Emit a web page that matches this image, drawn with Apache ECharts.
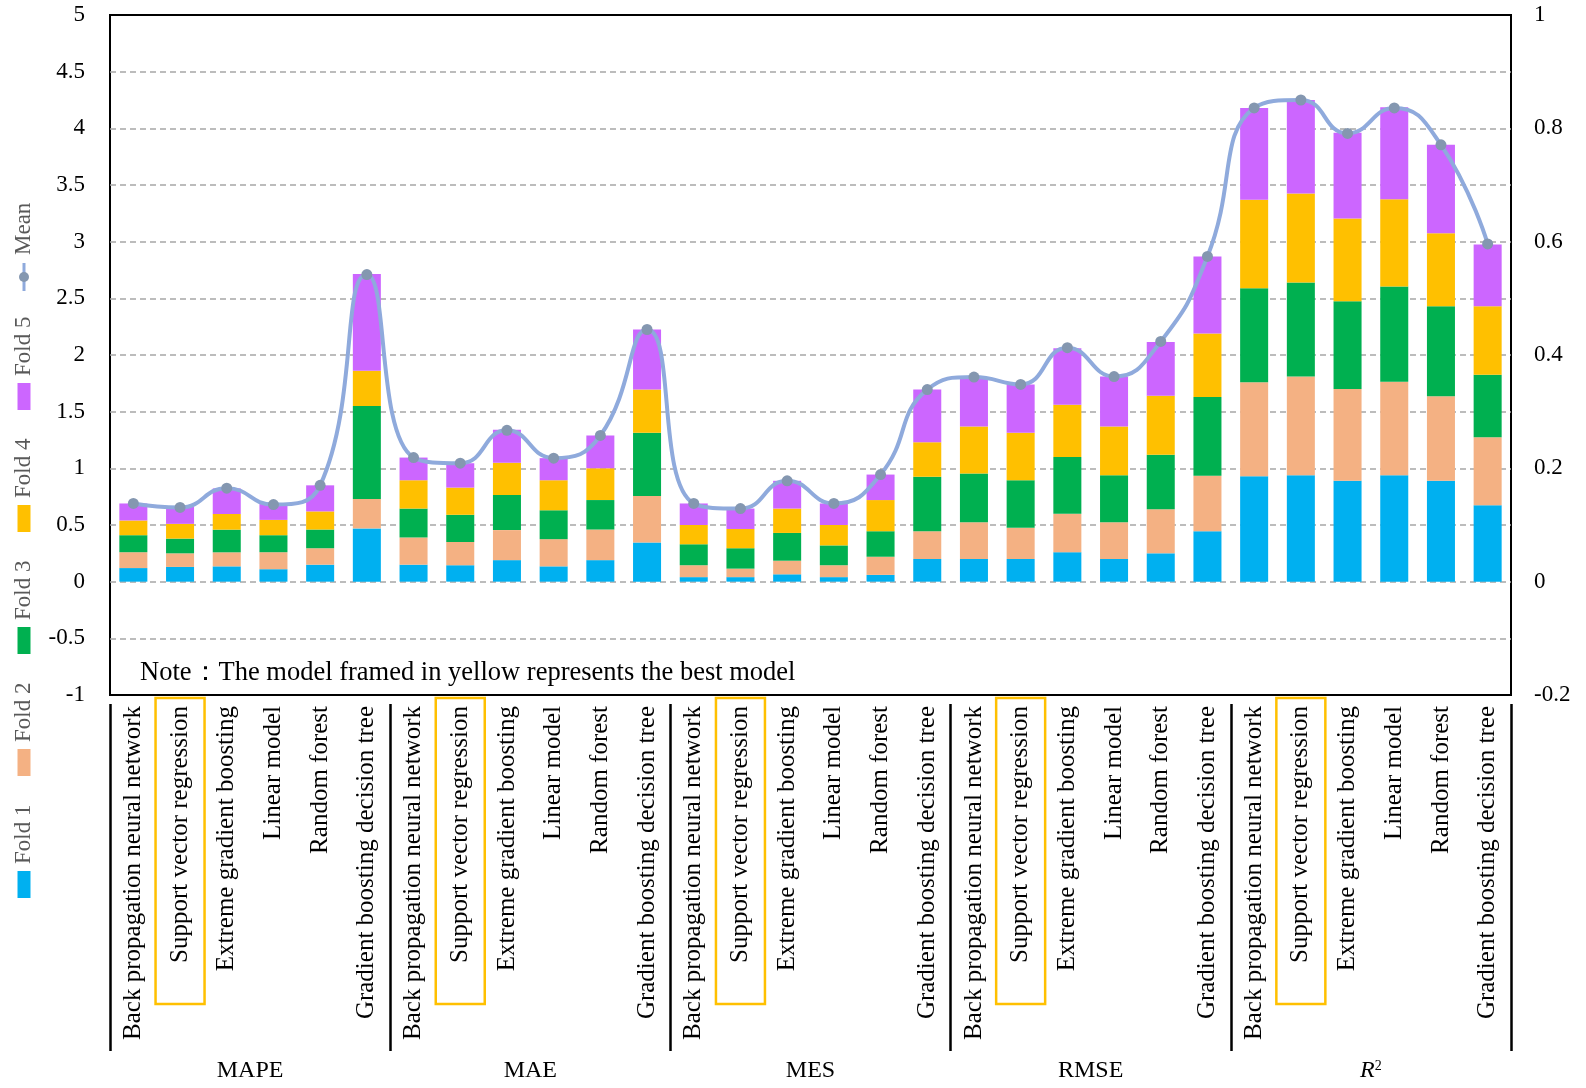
<!DOCTYPE html>
<html>
<head>
<meta charset="utf-8">
<script src="https://cdn.jsdelivr.net/npm/echarts@6/dist/echarts.min.js"></script>
<style>
  html, body { margin: 0; padding: 0; background: #fff; }
  #main { width: 1586px; height: 1088px; }
</style>
</head>
<body>
<div id="main"></div>
<script>
var chart = echarts.init(document.getElementById('main'));

// 指标分组与模型
var groups = ['MAPE', 'MAE', 'MES', 'RMSE', 'R2'];
var models = ['Back propagation neural network', 'Support vector regression', 'Extreme gradient boosting',
    'Linear model', 'Random forest', 'Gradient boosting decision tree'];
var bestModel = 'Support vector regression';

// 五折数据 (MAPE, MAE, MES, RMSE, R2 各 6 个模型)
var fold1 = [0.12, 0.13, 0.135, 0.11, 0.15, 0.47,
    0.15, 0.145, 0.19, 0.135, 0.19, 0.345,
    0.04, 0.04, 0.065, 0.04, 0.06, 0.2,
    0.2, 0.2, 0.26, 0.2, 0.25, 0.445,
    0.93, 0.94, 0.89, 0.94, 0.89, 0.675];
var fold2 = [0.14, 0.12, 0.124, 0.15, 0.145, 0.26,
    0.24, 0.205, 0.265, 0.24, 0.27, 0.41,
    0.105, 0.075, 0.12, 0.105, 0.16, 0.245,
    0.325, 0.275, 0.34, 0.325, 0.39, 0.49,
    0.83, 0.87, 0.81, 0.825, 0.745, 0.6];
var fold3 = [0.15, 0.13, 0.2, 0.15, 0.165, 0.82,
    0.255, 0.24, 0.31, 0.255, 0.26, 0.56,
    0.185, 0.18, 0.245, 0.175, 0.225, 0.48,
    0.43, 0.42, 0.5, 0.415, 0.48, 0.695,
    0.83, 0.83, 0.775, 0.84, 0.795, 0.55];
var fold4 = [0.13, 0.13, 0.138, 0.135, 0.16, 0.31,
    0.25, 0.24, 0.285, 0.265, 0.28, 0.38,
    0.17, 0.17, 0.215, 0.18, 0.275, 0.305,
    0.415, 0.42, 0.46, 0.43, 0.52, 0.56,
    0.78, 0.785, 0.73, 0.77, 0.645, 0.605];
var fold5 = [0.15, 0.15, 0.226, 0.14, 0.23, 0.855,
    0.2, 0.215, 0.29, 0.195, 0.29, 0.53,
    0.19, 0.18, 0.245, 0.19, 0.225, 0.465,
    0.435, 0.425, 0.5, 0.44, 0.475, 0.68,
    0.81, 0.825, 0.755, 0.81, 0.78, 0.545];
// 均值 (右轴)
var meanValues = [0.138, 0.131, 0.165, 0.136, 0.170, 0.542,
    0.219, 0.209, 0.267, 0.218, 0.258, 0.445,
    0.138, 0.129, 0.178, 0.138, 0.189, 0.339,
    0.361, 0.348, 0.413, 0.362, 0.424, 0.574,
    0.836, 0.850, 0.791, 0.836, 0.771, 0.596];

var leftTicks = { min: -1, max: 5, interval: 0.5 };
var rightTicks = { min: -0.2, max: 1, interval: 0.2 };

var foldNames = ['Fold 1', 'Fold 2', 'Fold 3', 'Fold 4', 'Fold 5'];
var foldColors = ['#00B0F0', '#F4B183', '#00B050', '#FFC000', '#CC66FF'];
var foldData = [fold1, fold2, fold3, fold4, fold5];

var serif = '"Liberation Serif", "Times New Roman", serif';

var categories = [];
groups.forEach(function (g) {
    models.forEach(function (m) { categories.push(m); });
});

var series = foldData.map(function (d, i) {
    return {
        name: foldNames[i],
        type: 'bar',
        stack: 'folds',
        barWidth: '60%',
        itemStyle: { color: foldColors[i] },
        data: d
    };
});
series.push({
    name: 'Mean',
    type: 'line',
    yAxisIndex: 1,
    smooth: 0.5,
    symbol: 'circle',
    symbolSize: 11,
    z: 5,
    itemStyle: { color: '#8497B0' },
    lineStyle: { color: '#8FAADC', width: 4 },
    data: meanValues
});

// 竖排图例 (旋转)
var legendChildren = [];
foldNames.forEach(function (n, i) {
    var x0 = i * 122;
    legendChildren.push({
        type: 'rect',
        shape: { x: x0, y: -6.5, width: 27, height: 13 },
        style: { fill: foldColors[i] }
    });
    legendChildren.push({
        type: 'text',
        style: { text: n, x: x0 + 34, y: 0, verticalAlign: 'middle', fill: '#595959', font: '23px ' + serif }
    });
});
legendChildren.push({
    type: 'line',
    shape: { x1: 607, y1: 0, x2: 635, y2: 0 },
    style: { stroke: '#8FAADC', lineWidth: 3 }
});
legendChildren.push({
    type: 'circle',
    shape: { cx: 621, cy: 0, r: 5 },
    style: { fill: '#8497B0' }
});
legendChildren.push({
    type: 'text',
    style: { text: 'Mean', x: 643, y: 0, verticalAlign: 'middle', fill: '#595959', font: '23px ' + serif }
});

var option = {
    backgroundColor: '#fff',
    animation: false,
    grid: {
        left: 110, right: 75, top: 15, bottom: 393,
        show: true, borderColor: '#000', borderWidth: 2,
        outerBoundsMode: 'none'
    },
    xAxis: [{
        type: 'category',
        data: categories,
        axisLine: { show: false, onZero: false },
        axisTick: { show: false },
        axisLabel: {
            interval: 0,
            rotate: 90,
            margin: 3,
            formatter: function (value) {
                return value === bestModel ? '{best|' + value + '}' : '{n|' + value + '}';
            },
            rich: {
                n: {
                    fontFamily: serif, fontSize: 25, color: '#000', lineHeight: 25,
                    padding: [13, 8, 13, 41]
                },
                best: {
                    fontFamily: serif, fontSize: 25, color: '#000', lineHeight: 25,
                    padding: [12, 8, 12, 41], borderColor: '#FFC000', borderWidth: 2.5
                }
            }
        }
    }, {
        type: 'category',
        data: groups,
        position: 'bottom',
        offset: 9,
        axisLine: { show: false, onZero: false },
        axisTick: { show: true, interval: 0, length: 347, lineStyle: { color: '#000', width: 2.5 } },
        axisLabel: {
            interval: 0,
            margin: 355,
            formatter: function (value) {
                return value === 'R2' ? '{i|R}{s|2}' : '{t|' + value + '}';
            },
            rich: {
                t: { fontFamily: serif, fontSize: 24, color: '#000' },
                i: { fontFamily: serif, fontSize: 24, color: '#000', fontStyle: 'italic' },
                s: { fontFamily: serif, fontSize: 14, color: '#000', padding: [0, 0, 10, 0] }
            }
        }
    }],
    yAxis: [{
        type: 'value',
        min: leftTicks.min, max: leftTicks.max, interval: leftTicks.interval,
        axisLine: { show: false },
        axisTick: { show: false },
        axisLabel: { margin: 25, fontFamily: serif, fontSize: 23, color: '#000' },
        splitLine: {
            showMinLine: false, showMaxLine: false,
            lineStyle: { color: '#A6A6A6', type: [6, 4], width: 1.5 }
        }
    }, {
        type: 'value',
        min: rightTicks.min, max: rightTicks.max, interval: rightTicks.interval,
        axisLine: { show: false },
        axisTick: { show: false },
        axisLabel: { margin: 23, fontFamily: serif, fontSize: 23, color: '#000' },
        splitLine: { show: false }
    }],
    graphic: [{
        type: 'text',
        x: 140, y: 673,
        style: {
            text: 'Note：The model framed in yellow represents the best model',
            font: '26.5px ' + serif, fill: '#000', verticalAlign: 'middle'
        },
        z: 100
    }, {
        type: 'group',
        x: 24, y: 898,
        rotation: Math.PI / 2,
        children: legendChildren
    }],
    series: series
};

chart.setOption(option);
</script>
</body>
</html>
